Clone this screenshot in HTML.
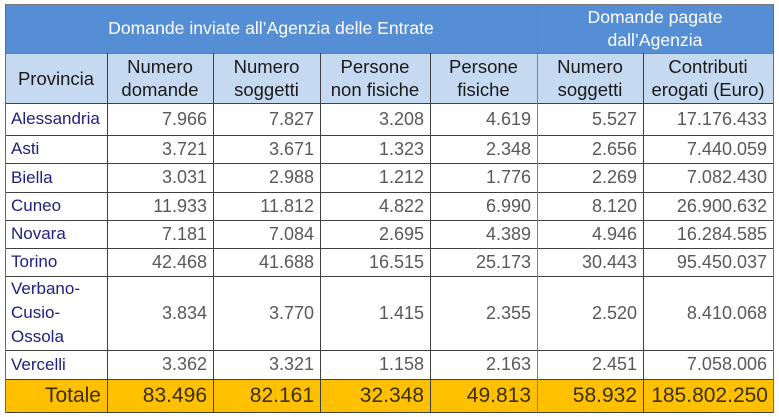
<!DOCTYPE html>
<html><head><meta charset="utf-8"><style>
html,body{margin:0;padding:0;background:#fff;width:779px;height:417px;overflow:hidden;position:relative;font-family:"Liberation Sans",sans-serif;}
.bg{position:absolute;}
.h{position:absolute;height:1px;background:#404040;}
.v{position:absolute;width:1px;background:#404040;}
.c{position:absolute;display:flex;align-items:center;box-sizing:border-box;white-space:nowrap;}
.n{justify-content:flex-end;padding-right:6px;color:#595959;font-size:18px;}
.p{justify-content:flex-start;padding-left:6px;color:#202080;font-size:17px;}
.hd{justify-content:center;text-align:center;color:#1a1a1a;font-size:18.5px;line-height:23px;}
.h1{font-size:17.6px;color:#fff;}
.t{justify-content:flex-end;padding-right:6px;color:#3a2f00;font-size:21px;}
</style></head><body>
<div class="bg" style="left:5px;top:4px;width:768px;height:49px;background:#558ED5"></div>
<div class="bg" style="left:5px;top:53px;width:768px;height:50px;background:#C5D9F1"></div>
<div class="bg" style="left:5px;top:379px;width:768px;height:33px;background:#FFC000"></div>

<div class="h" style="left:5px;top:4px;width:769px;background:#7a7a7a"></div>
<div class="h" style="left:5px;top:53px;width:769px;background:#6a7a90"></div>
<div class="h" style="left:5px;top:103px;width:769px"></div>
<div class="h" style="left:5px;top:135px;width:769px"></div>
<div class="h" style="left:5px;top:163px;width:769px"></div>
<div class="h" style="left:5px;top:192px;width:769px"></div>
<div class="h" style="left:5px;top:220px;width:769px"></div>
<div class="h" style="left:5px;top:248px;width:769px"></div>
<div class="h" style="left:5px;top:276px;width:769px"></div>
<div class="h" style="left:5px;top:350px;width:769px"></div>
<div class="h" style="left:5px;top:379px;width:769px"></div>
<div class="h" style="left:5px;top:412px;width:769px"></div>

<div class="v" style="left:5px;top:4px;height:409px;background:#6a6a6a"></div>
<div class="v" style="left:773px;top:4px;height:409px;background:#6a6a6a"></div>
<div class="v" style="left:537px;top:4px;height:409px;background:#7f7f7f"></div>
<div class="v" style="left:107px;top:53px;height:360px"></div>
<div class="v" style="left:213px;top:53px;height:360px"></div>
<div class="v" style="left:320px;top:53px;height:360px"></div>
<div class="v" style="left:430px;top:53px;height:360px"></div>
<div class="v" style="left:643px;top:53px;height:360px"></div>

<div class="c hd h1" style="left:5px;top:4px;width:532px;height:49px">Domande inviate all’Agenzia delle Entrate</div>
<div class="c hd h1" style="left:537px;top:4px;width:236px;height:49px">Domande pagate<br>dall’Agenzia</div>

<div class="c hd" style="left:5px;top:53px;width:102px;height:50px">Provincia</div>
<div class="c hd" style="left:107px;top:53px;width:106px;height:50px">Numero<br>domande</div>
<div class="c hd" style="left:213px;top:53px;width:107px;height:50px">Numero<br>soggetti</div>
<div class="c hd" style="left:320px;top:53px;width:110px;height:50px">Persone<br>non fisiche</div>
<div class="c hd" style="left:430px;top:53px;width:107px;height:50px">Persone<br>fisiche</div>
<div class="c hd" style="left:537px;top:53px;width:106px;height:50px">Numero<br>soggetti</div>
<div class="c hd" style="left:643px;top:53px;width:130px;height:50px">Contributi<br>erogati (Euro)</div>

<div class="c p" style="left:5px;top:103px;width:102px;height:32px">Alessandria</div>
<div class="c n" style="left:107px;top:103px;width:106px;height:32px">7.966</div>
<div class="c n" style="left:213px;top:103px;width:107px;height:32px">7.827</div>
<div class="c n" style="left:320px;top:103px;width:110px;height:32px">3.208</div>
<div class="c n" style="left:430px;top:103px;width:107px;height:32px">4.619</div>
<div class="c n" style="left:537px;top:103px;width:106px;height:32px">5.527</div>
<div class="c n" style="left:643px;top:103px;width:130px;height:32px">17.176.433</div>

<div class="c p" style="left:5px;top:135px;width:102px;height:28px">Asti</div>
<div class="c n" style="left:107px;top:135px;width:106px;height:28px">3.721</div>
<div class="c n" style="left:213px;top:135px;width:107px;height:28px">3.671</div>
<div class="c n" style="left:320px;top:135px;width:110px;height:28px">1.323</div>
<div class="c n" style="left:430px;top:135px;width:107px;height:28px">2.348</div>
<div class="c n" style="left:537px;top:135px;width:106px;height:28px">2.656</div>
<div class="c n" style="left:643px;top:135px;width:130px;height:28px">7.440.059</div>

<div class="c p" style="left:5px;top:163px;width:102px;height:29px">Biella</div>
<div class="c n" style="left:107px;top:163px;width:106px;height:29px">3.031</div>
<div class="c n" style="left:213px;top:163px;width:107px;height:29px">2.988</div>
<div class="c n" style="left:320px;top:163px;width:110px;height:29px">1.212</div>
<div class="c n" style="left:430px;top:163px;width:107px;height:29px">1.776</div>
<div class="c n" style="left:537px;top:163px;width:106px;height:29px">2.269</div>
<div class="c n" style="left:643px;top:163px;width:130px;height:29px">7.082.430</div>

<div class="c p" style="left:5px;top:192px;width:102px;height:28px">Cuneo</div>
<div class="c n" style="left:107px;top:192px;width:106px;height:28px">11.933</div>
<div class="c n" style="left:213px;top:192px;width:107px;height:28px">11.812</div>
<div class="c n" style="left:320px;top:192px;width:110px;height:28px">4.822</div>
<div class="c n" style="left:430px;top:192px;width:107px;height:28px">6.990</div>
<div class="c n" style="left:537px;top:192px;width:106px;height:28px">8.120</div>
<div class="c n" style="left:643px;top:192px;width:130px;height:28px">26.900.632</div>

<div class="c p" style="left:5px;top:220px;width:102px;height:28px">Novara</div>
<div class="c n" style="left:107px;top:220px;width:106px;height:28px">7.181</div>
<div class="c n" style="left:213px;top:220px;width:107px;height:28px">7.084</div>
<div class="c n" style="left:320px;top:220px;width:110px;height:28px">2.695</div>
<div class="c n" style="left:430px;top:220px;width:107px;height:28px">4.389</div>
<div class="c n" style="left:537px;top:220px;width:106px;height:28px">4.946</div>
<div class="c n" style="left:643px;top:220px;width:130px;height:28px">16.284.585</div>

<div class="c p" style="left:5px;top:248px;width:102px;height:28px">Torino</div>
<div class="c n" style="left:107px;top:248px;width:106px;height:28px">42.468</div>
<div class="c n" style="left:213px;top:248px;width:107px;height:28px">41.688</div>
<div class="c n" style="left:320px;top:248px;width:110px;height:28px">16.515</div>
<div class="c n" style="left:430px;top:248px;width:107px;height:28px">25.173</div>
<div class="c n" style="left:537px;top:248px;width:106px;height:28px">30.443</div>
<div class="c n" style="left:643px;top:248px;width:130px;height:28px">95.450.037</div>

<div class="c p" style="left:5px;top:276px;width:102px;height:74px;line-height:24px">Verbano-<br>Cusio-<br>Ossola</div>
<div class="c n" style="left:107px;top:276px;width:106px;height:74px">3.834</div>
<div class="c n" style="left:213px;top:276px;width:107px;height:74px">3.770</div>
<div class="c n" style="left:320px;top:276px;width:110px;height:74px">1.415</div>
<div class="c n" style="left:430px;top:276px;width:107px;height:74px">2.355</div>
<div class="c n" style="left:537px;top:276px;width:106px;height:74px">2.520</div>
<div class="c n" style="left:643px;top:276px;width:130px;height:74px">8.410.068</div>

<div class="c p" style="left:5px;top:350px;width:102px;height:29px">Vercelli</div>
<div class="c n" style="left:107px;top:350px;width:106px;height:29px">3.362</div>
<div class="c n" style="left:213px;top:350px;width:107px;height:29px">3.321</div>
<div class="c n" style="left:320px;top:350px;width:110px;height:29px">1.158</div>
<div class="c n" style="left:430px;top:350px;width:107px;height:29px">2.163</div>
<div class="c n" style="left:537px;top:350px;width:106px;height:29px">2.451</div>
<div class="c n" style="left:643px;top:350px;width:130px;height:29px">7.058.006</div>

<div class="c t" style="left:5px;top:379px;width:102px;height:33px">Totale</div>
<div class="c t" style="left:107px;top:379px;width:106px;height:33px">83.496</div>
<div class="c t" style="left:213px;top:379px;width:107px;height:33px">82.161</div>
<div class="c t" style="left:320px;top:379px;width:110px;height:33px">32.348</div>
<div class="c t" style="left:430px;top:379px;width:107px;height:33px">49.813</div>
<div class="c t" style="left:537px;top:379px;width:106px;height:33px">58.932</div>
<div class="c t" style="left:643px;top:379px;width:130px;height:33px;padding-right:5px">185.802.250</div>
</body></html>
